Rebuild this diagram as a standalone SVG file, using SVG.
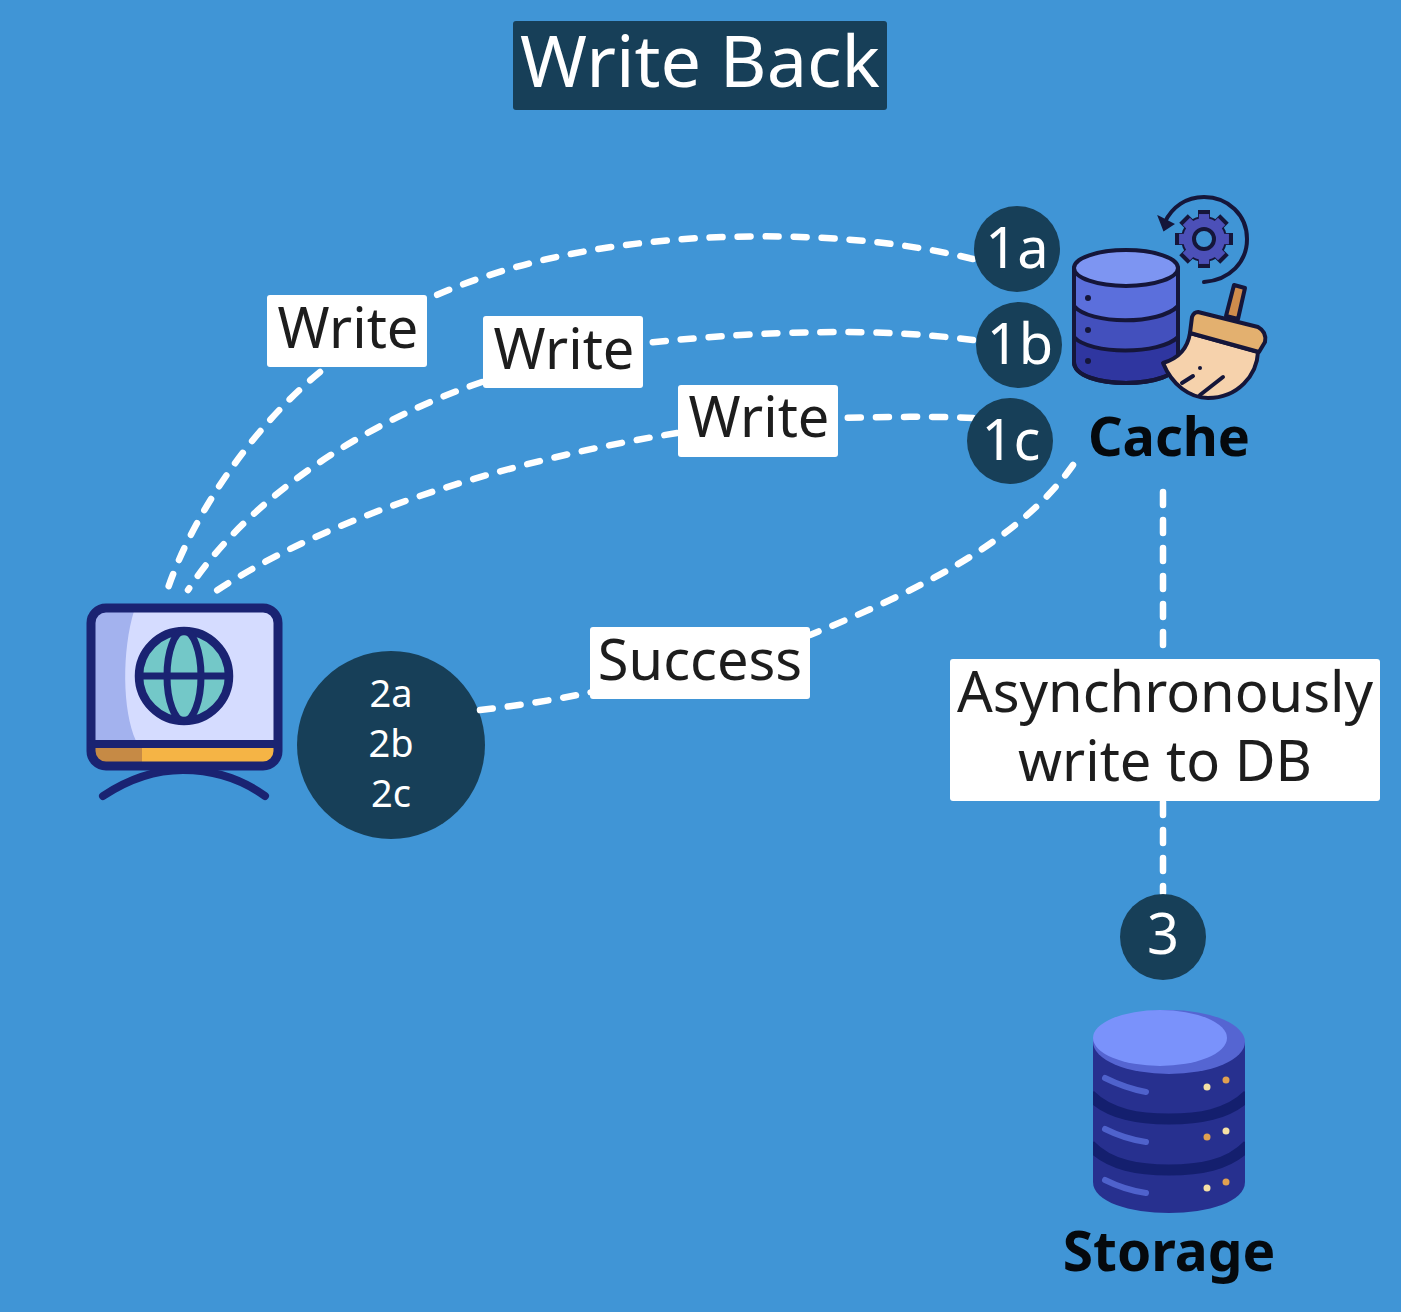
<svg xmlns="http://www.w3.org/2000/svg" width="1401" height="1312" viewBox="0 0 1401 1312">
<style>
text{font-family:"Noto Sans","Open Sans","Liberation Sans",sans-serif;text-anchor:middle}
.lab{font-size:56px;fill:#1d1d1d}
.box{fill:#fff}
.badge{fill:#173f58}
.bt{font-size:56px;fill:#fff}
.name{font-size:54px;font-weight:700;fill:#05090d}
.dash{fill:none;stroke:#fff;stroke-width:6.5;stroke-linecap:round;stroke-dasharray:13 15}
.ol{stroke:#15163a;stroke-width:4;stroke-linejoin:round;stroke-linecap:round}
.nv{stroke:#1a2372;stroke-linecap:round;stroke-linejoin:round}
</style>
<defs>
<rect id="tooth" x="-6" y="-29" width="12" height="12"/>
<g id="teeth"><use href="#tooth"/><use href="#tooth" transform="rotate(45)"/><use href="#tooth" transform="rotate(90)"/><use href="#tooth" transform="rotate(135)"/><use href="#tooth" transform="rotate(180)"/><use href="#tooth" transform="rotate(225)"/><use href="#tooth" transform="rotate(270)"/><use href="#tooth" transform="rotate(315)"/></g>
<clipPath id="body"><path d="M1093 1042V1182C1093 1202 1130 1213 1169 1213C1208 1213 1245 1202 1245 1182V1042Z"/></clipPath>
</defs>
<rect width="1401" height="1312" fill="#4095d6"/>
<g id="badge-2"><circle class="badge" cx="391" cy="745" r="94"/><text x="391" y="707" font-size="38" fill="#fff">2a</text><text x="391" y="757" font-size="38" fill="#fff">2b</text><text x="391" y="807" font-size="38" fill="#fff">2c</text></g>
<g id="connectors">
<path class="dash" d="M973 259C880 236 780 234 700 238C600 244 510 262 430 298"/>
<path class="dash" d="M320 372C255 425 195 510 168 588"/>
<path class="dash" d="M973 340C880 328 770 330 645 343"/>
<path class="dash" d="M482 382C370 420 250 495 188 590"/>
<path class="dash" d="M973 418C930 416 880 417 838 418"/>
<path class="dash" d="M677 433C510 460 330 515 213 593"/>
<path class="dash" d="M1073 465C1020 540 920 590 810 635"/>
<path class="dash" d="M480 710C515 706 555 700 592 692"/>
<path class="dash" d="M1163 492V658"/>
<path class="dash" d="M1163 802V893"/>
</g>
<g id="title"><rect x="513" y="21" width="374" height="89" rx="3" class="badge"/><text x="700" y="87" font-size="72" fill="#fff">Write Back</text></g>
<g id="label-write-a"><rect class="box" x="267" y="295" width="160" height="72" rx="3"/><text class="lab" x="348" y="348">Write</text></g>
<g id="label-write-b"><rect class="box" x="483" y="316" width="160" height="72" rx="3"/><text class="lab" x="564" y="369">Write</text></g>
<g id="label-write-c"><rect class="box" x="678" y="385" width="160" height="72" rx="3"/><text class="lab" x="759" y="437">Write</text></g>
<g id="label-success"><rect class="box" x="590" y="627" width="220" height="72" rx="3"/><text class="lab" x="700" y="680">Success</text></g>
<g id="label-async"><rect class="box" x="950" y="659" width="430" height="142" rx="3"/><text class="lab"><tspan x="1165" y="712">Asynchronously</tspan><tspan x="1165" y="781">write to DB</tspan></text></g>
<g id="badge-1a"><circle class="badge" cx="1017" cy="249" r="43"/><text class="bt" x="1017" y="268">1a</text></g>
<g id="badge-1b"><circle class="badge" cx="1019" cy="345" r="43"/><text class="bt" x="1020" y="364">1b</text></g>
<g id="badge-1c"><circle class="badge" cx="1010" cy="441" r="43"/><text class="bt" x="1011" y="460">1c</text></g>
<g id="badge-3"><circle class="badge" cx="1163" cy="937" r="43"/><text class="bt" x="1163" y="954">3</text></g>
<g id="client">
<path class="nv" fill="none" stroke-width="8" d="M103 796C130 778 155 770 183 770C212 770 240 778 265 796"/>
<rect x="91" y="608" width="187" height="158" rx="15" fill="#d5dcff"/>
<path d="M94 611H134C122 650 122 710 136 741H94Z" fill="#a3b2ee"/>
<path d="M94 748H275V753Q275 763 264 763H105Q94 763 94 753Z" fill="#f5b445"/>
<path d="M94 748H142V763H105Q94 763 94 753Z" fill="#c68a45"/>
<rect class="nv" x="91" y="608" width="187" height="158" rx="15" fill="none" stroke-width="9"/>
<path class="nv" d="M91 744H278" stroke-width="8" fill="none"/>
<circle cx="184" cy="676" r="45" fill="#73c8c8" stroke="#1a2372" stroke-width="8.5"/>
<ellipse cx="184" cy="676" rx="17" ry="45" fill="none" stroke="#1a2372" stroke-width="7"/>
<path class="nv" d="M139 676H229" stroke-width="7"/>
</g>
<g id="cache">
<path class="ol" d="M1074 268V362C1074 376 1100 383 1126 383C1152 383 1178 376 1178 362V268Z" fill="#2f36a0"/>
<path d="M1074 268V337C1090 355 1160 355 1178 337V268Z" fill="#4350bd"/>
<path d="M1074 268V306C1090 325 1160 325 1178 306V268Z" fill="#5b6fdc"/>
<path class="ol" fill="none" d="M1074 306C1090 325 1160 325 1178 306M1074 337C1090 355 1160 355 1178 337M1074 268V362C1074 376 1100 383 1126 383C1152 383 1178 376 1178 362V268"/>
<ellipse class="ol" cx="1126" cy="268" rx="52" ry="18" fill="#7d95f2"/>
<circle cx="1088" cy="298" r="3" fill="#15163a"/><circle cx="1088" cy="330" r="3" fill="#15163a"/><circle cx="1088" cy="361" r="3" fill="#15163a"/>
<path fill="none" stroke="#15163a" stroke-width="4" stroke-linecap="round" d="M1204 282C1230 280 1247 262 1247 239C1247 215 1228 197 1204 197C1186 197 1172 207 1165 222"/>
<path d="M1159 217L1173 224L1164 230Z" fill="#15163a" stroke="#15163a" stroke-width="2"/>
<g transform="translate(1204 239)"><use href="#teeth" fill="#15163a"/><circle r="23" fill="#15163a"/><use href="#teeth" fill="#4c50b8" transform="scale(.86)"/><circle r="21" fill="#4c50b8"/><circle r="10" fill="#4095d6" stroke="#15163a" stroke-width="4"/></g>
<path class="ol" d="M1234 285L1245 288L1238 319L1226 316Z" fill="#cf8c4c"/>
<path class="ol" d="M1190 333L1258 352C1257 375 1238 398 1208 398C1190 398 1172 385 1163 363C1180 358 1188 346 1190 333Z" fill="#f6d2ac"/>
<path class="ol" d="M1198 312L1258 327Q1267 332 1265 342L1259 352L1190 333L1192 317Q1194 312 1198 312Z" fill="#e3b06f"/>
<path class="ol" fill="none" d="M1182 383L1193 376M1200 395L1223 377"/>
<circle cx="1200" cy="368" r="2" fill="#15163a"/>
<text class="name" x="1169" y="456">Cache</text>
</g>
<g id="storage">
<path d="M1093 1042V1182C1093 1202 1130 1213 1169 1213C1208 1213 1245 1202 1245 1182V1042Z" fill="#27308f"/>
<path clip-path="url(#body)" fill="none" stroke="#141f6e" stroke-width="11" d="M1090 1095C1110 1115 1140 1119 1169 1119C1198 1119 1228 1115 1248 1095M1090 1145C1110 1166 1140 1170 1169 1170C1198 1170 1228 1166 1248 1145"/>
<ellipse cx="1169" cy="1042" rx="76" ry="32" fill="#5565d2"/>
<ellipse cx="1160" cy="1038" rx="67" ry="28" fill="#7a92fb"/>
<path fill="none" stroke="#4f62cc" stroke-width="6" stroke-linecap="round" d="M1105 1078Q1125 1088 1146 1092M1105 1129Q1125 1139 1146 1142M1105 1180Q1125 1190 1146 1193"/>
<g fill="#f5e0a5"><circle cx="1207" cy="1087" r="3.5"/><circle cx="1226" cy="1131" r="3.5"/><circle cx="1207" cy="1188" r="3.5"/></g>
<g fill="#e0a050"><circle cx="1226" cy="1080" r="3.5"/><circle cx="1207" cy="1137" r="3.5"/><circle cx="1226" cy="1182" r="3.5"/></g>
<text class="name" x="1169" y="1271" style="font-size:55px">Storage</text>
</g>
</svg>
